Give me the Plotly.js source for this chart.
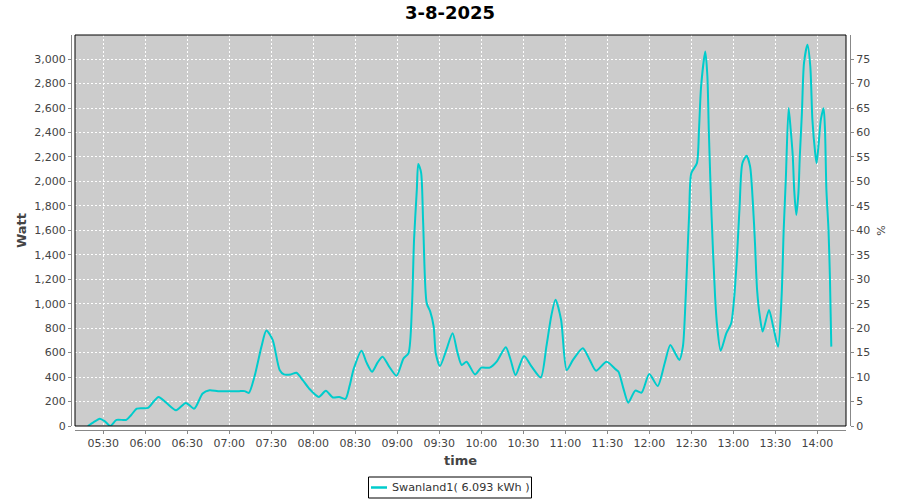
<!DOCTYPE html>
<html>
<head>
<meta charset="utf-8">
<script src="https://cdn.plot.ly/plotly-3.0.1.min.js"></script>
<style>html,body{margin:0;padding:0;background:#fff;}#chart{width:900px;height:500px;}</style>
</head>
<body>
<div id="chart"></div>
<script>
const chartDate = "2025-08-03";
const chartTitle = "3-8-2025";
const seriesName = "Swanland1( 6.093 kWh )";
const times = [
"05:19:00","05:23:00","05:27:30","05:31:00","05:35:00","05:39:30","05:46:30","05:50:00","05:54:00","06:02:00",
"06:06:00","06:09:30","06:15:00","06:22:00","06:29:00","06:35:00","06:41:00","06:46:00","06:52:00","07:00:00",
"07:07:00","07:11:00","07:14:00","07:18:00","07:23:00","07:26:30","07:31:00","07:36:00","07:39:00","07:44:00",
"07:48:00","07:52:30","07:57:00","08:04:00","08:09:00","08:14:00","08:18:30","08:23:00","08:26:00","08:29:00",
"08:34:30","08:38:00","08:42:00","08:46:00","08:49:30","08:54:00","08:59:30","09:04:30","09:08:00","09:10:30",
"09:12:00","09:14:00","09:15:00","09:17:00","09:18:30","09:21:00","09:23:30","09:26:00","09:27:30","09:30:30",
"09:35:00","09:39:30","09:43:00","09:46:00","09:49:30","09:55:30","10:00:00","10:06:00","10:11:00","10:17:30",
"10:21:00","10:24:30","10:30:30","10:36:00","10:42:30","10:46:30","10:50:00","10:53:00","10:57:00","11:01:00",
"11:05:30","11:12:30","11:17:30","11:22:00","11:29:30","11:36:00","11:38:00","11:41:30","11:45:00","11:50:00",
"11:54:30","12:00:00","12:06:00","12:11:00","12:15:00","12:18:30","12:21:30","12:24:00","12:25:30","12:27:00",
"12:28:30","12:30:00","12:34:00","12:35:30","12:37:00","12:40:00","12:41:30","12:42:30","12:44:30","12:47:00",
"12:48:30","12:51:00","12:55:00","12:58:30","13:00:30","13:02:30","13:04:30","13:06:30","13:09:30","13:12:00",
"13:14:00","13:15:30","13:17:00","13:19:00","13:21:00","13:25:30","13:28:30","13:32:00","13:34:30","13:36:00",
"13:37:30","13:39:30","13:41:00","13:42:30","13:43:30","13:45:00","13:46:30","13:47:30","13:49:00","13:50:30",
"13:53:00","13:55:00","13:56:30","13:58:30","13:59:30","14:01:00","14:02:30","14:04:30","14:05:30","14:06:30",
"14:08:00","14:09:00","14:10:00"
];
const watts = [
0,30,60,40,0,50,50,90,142,148,
200,238,190,129,189,142,266,293,285,285,
285,285,271,403,649,781,704,458,422,422,
435,375,307,238,288,233,238,222,330,471,
616,520,444,520,567,490,411,553,595,978,
1526,1937,2143,2074,1663,1006,937,814,595,490,
620,759,600,499,526,422,477,477,526,644,
540,416,573,485,397,649,900,1033,869,458,
540,636,540,452,526,463,444,308,191,289,
273,425,327,513,663,595,540,649,922,1331,
1740,2067,2149,2422,2776,3062,2858,2422,1713,1058,
813,616,758,840,1031,1358,1794,2149,2209,2122,
1822,1494,1113,894,772,949,813,649,1058,1603,
2013,2600,2422,2204,1931,1726,1904,2204,2558,2967,
3117,2940,2503,2231,2149,2312,2503,2599,2422,1931,
1603,1222,649
];
const xRange = ["05:09:50","14:20:30"];
const wattMax = 3197;
const pctMax = wattMax / 40;

const W = 900, H = 500;
const mL = 71, mR = 50, mT = 35, mB = 70;
const pw = W - mL - mR, ph = H - mT - mB;
const gap = 4;
const xd = [gap / pw, 1 - gap / pw];
const yd = [gap / ph, 1];
// pixel -> paper helpers for the legend box
const px = v => (v - mL) / pw;
const py = v => (H - mB - v) / ph;

const font = "DejaVu Sans, sans-serif";
const tickFont = {family: font, size: 11, color: "#444"};
const lineColor = "#00cccc";

const trace = {
  x: times.map(t => chartDate + " " + t),
  y: watts,
  type: "scatter",
  mode: "lines",
  name: seriesName,
  line: {color: lineColor, width: 2, shape: "spline", smoothing: 0.7},
  hoverinfo: "skip",
  showlegend: false
};
const dummy = {
  x: [chartDate + " " + xRange[0]], y: [0], yaxis: "y2", type: "scatter", mode: "markers",
  marker: {opacity: 0}, showlegend: false, hoverinfo: "skip"
};

const grid = {showgrid: true, gridcolor: "#ffffff", gridwidth: 1, griddash: "2px,2px"};

const layout = {
  width: W, height: H,
  margin: {l: mL, r: mR, t: mT, b: mB, pad: 0},
  paper_bgcolor: "#ffffff",
  plot_bgcolor: "#cccccc",
  showlegend: false,
  title: {text: chartTitle, font: {family: font, size: 18, color: "#000", weight: "bold"},
          xref: "container", x: 0.5, xanchor: "center", yref: "container", y: 1 - 13/500, yanchor: "middle"},
  xaxis: Object.assign({
    type: "date", domain: xd, anchor: "free", position: 0,
    range: xRange.map(t => chartDate + " " + t),
    tickformat: "%H:%M", dtick: 1800000, tick0: chartDate + " 05:30:00",
    ticks: "outside", ticklen: 3, tickcolor: "#888", showline: true, linecolor: "#888", linewidth: 1,
    tickfont: tickFont, zeroline: false, fixedrange: true,
    title: {text: "time", font: {family: font, size: 13, color: "#444", weight: "bold"}, standoff: 6}
  }, grid),
  yaxis: Object.assign({
    domain: yd, anchor: "free", position: 0,
    range: [0, wattMax], dtick: 200, tick0: 0, tickformat: ",d",
    ticks: "outside", ticklen: 3, tickcolor: "#888", showline: true, linecolor: "#888", linewidth: 1,
    tickfont: tickFont, zeroline: false, fixedrange: true,
    title: {text: "Watt", font: {family: font, size: 13, color: "#444", weight: "bold"}, standoff: 3}
  }, grid),
  yaxis2: {
    overlaying: "y", side: "right", anchor: "free", position: 1,
    range: [0, pctMax], dtick: 5, tick0: 0,
    ticks: "outside", ticklen: 3, tickcolor: "#888", showline: true, linecolor: "#888", linewidth: 1,
    tickfont: tickFont, showgrid: false, zeroline: false, fixedrange: true,
    title: {text: "%", font: {family: font, size: 11, color: "#444"}, standoff: 8}
  },
  shapes: [
    {type: "rect", xref: "paper", yref: "paper", x0: xd[0], x1: xd[1], y0: yd[0], y1: yd[1],
     line: {color: "#000", width: 1}, fillcolor: "rgba(0,0,0,0)", layer: "above"},
    {type: "rect", xref: "paper", yref: "paper", x0: px(368.5), x1: px(531.5), y0: py(498), y1: py(477),
     line: {color: "#000", width: 1}, fillcolor: "#fff"},
    {type: "line", xref: "paper", yref: "paper", x0: px(371), x1: px(387), y0: py(487.5), y1: py(487.5),
     line: {color: lineColor, width: 2.5}}
  ],
  annotations: [
    {text: seriesName, xref: "paper", yref: "paper", x: px(389.5), y: py(487.5),
     xanchor: "left", yanchor: "middle", showarrow: false,
     font: {family: font, size: 11.2, color: "#333"}}
  ]
};

Plotly.newPlot("chart", [trace, dummy], layout, {displayModeBar: false, staticPlot: true});
</script>
</body>
</html>
